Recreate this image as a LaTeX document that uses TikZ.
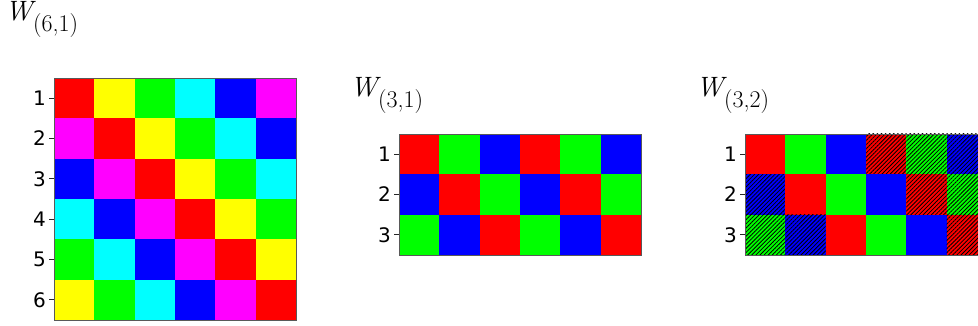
\documentclass[tikz,border=0pt]{standalone}
\usepackage{fontspec}
\newfontfamily\ticksans{DejaVu Sans}
\usetikzlibrary{calc, patterns.meta}
\definecolor{hue0}{HTML}{FF0000}
\definecolor{hue1}{HTML}{FFFF00}
\definecolor{hue2}{HTML}{00FF00}
\definecolor{hue3}{HTML}{00FFFF}
\definecolor{hue4}{HTML}{0000FF}
\definecolor{hue5}{HTML}{FF00FF}
\definecolor{rgb0}{HTML}{FF0000}
\definecolor{rgb1}{HTML}{00FF00}
\definecolor{rgb2}{HTML}{0000FF}
\newcommand{\wlabel}[1]{\textit{W}\kern-3pt\raisebox{-11pt}{\fontsize{24}{24}\selectfont(#1)}}

\begin{document}
\begin{tikzpicture}[
  x=1pt, y=-1pt,
  grid/.style={inner sep=0pt, outer sep=0pt, anchor=north west},
  frame/.style={draw=black!65, line width=0.8pt},
  tickmark/.style={draw=black!85, line width=0.8pt},
  ticklabel/.style={font=\ticksans\fontsize{20}{20}\selectfont, anchor=east, inner sep=0pt},
  title/.style={font=\fontsize{28}{30}\selectfont, anchor=base west, inner sep=0pt},
  hatched/.style={pattern={Lines[angle=45, distance=2.9pt, line width=0.8pt]},
                  pattern color=black},
]
\useasboundingbox (0,0) rectangle (978,326);
\clip (0,0) rectangle (978,326);
\def\cs{40.333}

% W(6,1)
\node[title] (t61) at (5,21) {\wlabel{6,1}};
\node[grid, minimum width=242pt, minimum height=242pt] (g61) at (54,78) {};
\foreach \r in {1,...,6}{
  \foreach \c in {1,...,6}{
    \pgfmathtruncatemacro\k{mod(\c-\r+6,6)}
    \fill[hue\k] ($(g61.north west)+({(\c-1)*\cs},{(\r-1)*\cs})$) rectangle ++(\cs,\cs);
  }
  \coordinate (a61\r) at ($(g61.north west)+(0,{(\r-0.5)*\cs})$);
  \draw[tickmark] (a61\r) -- ++(-5,0);
  \node[ticklabel] (l61\r) at ($(a61\r)+(-8,0)$) {\r};
}
\draw[frame] (g61.north west) rectangle (g61.south east);

% W(3,1)
\node[title] (t31) at (350,97) {\wlabel{3,1}};
\node[grid, minimum width=242pt, minimum height=121pt] (g31) at (399,134) {};
\foreach \r in {1,...,3}{
  \foreach \c in {1,...,6}{
    \pgfmathtruncatemacro\k{mod(\c-\r+6,3)}
    \fill[rgb\k] ($(g31.north west)+({(\c-1)*\cs},{(\r-1)*\cs})$) rectangle ++(\cs,\cs);
  }
  \coordinate (a31\r) at ($(g31.north west)+(0,{(\r-0.5)*\cs})$);
  \draw[tickmark] (a31\r) -- ++(-5,0);
  \node[ticklabel] (l31\r) at ($(a31\r)+(-8,0)$) {\r};
}
\draw[frame] (g31.north west) rectangle (g31.south east);

% W(3,2)
\node[title] (t32) at (696,97) {\wlabel{3,2}};
\node[grid, minimum width=242pt, minimum height=121pt] (g32) at (745,134) {};
\foreach \r in {1,...,3}{
  \foreach \c in {1,...,6}{
    \pgfmathtruncatemacro\k{mod(\c-\r+6,3)}
    \pgfmathtruncatemacro\h{mod(\c-\r+6,6)}
    \fill[rgb\k] ($(g32.north west)+({(\c-1)*\cs},{(\r-1)*\cs})$) rectangle ++(\cs,\cs);
    \ifnum\h>2
      \path[hatched] ($(g32.north west)+({(\c-1)*\cs},{(\r-1)*\cs})$) rectangle ++(\cs,\cs);
    \fi
  }
  \coordinate (a32\r) at ($(g32.north west)+(0,{(\r-0.5)*\cs})$);
  \draw[tickmark] (a32\r) -- ++(-5,0);
  \node[ticklabel] (l32\r) at ($(a32\r)+(-8,0)$) {\r};
}
\draw[frame] (g32.north west) rectangle (g32.south east);

\end{tikzpicture}
\end{document}
